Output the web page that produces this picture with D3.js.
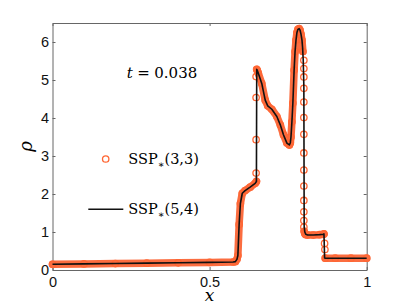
<!DOCTYPE html>
<html>
<head>
<meta charset="utf-8">
<script src="https://cdn.jsdelivr.net/npm/d3@7"></script>
<style>
  body { margin: 0; background: #fff; }
  svg { display: block; }
  .tick text { font-family: "Liberation Sans", Arial, sans-serif; font-size: 14.5px; fill: #111; }
</style>
</head>
<body>
<script>
// Tick labels
const xTicks = [0, 0.5, 1];
const yTicks = [0, 1, 2, 3, 4, 5, 6];

// SSP*(5,4) - black line
const ssp54X = [0, 0.1, 0.2, 0.3, 0.4, 0.5, 0.575, 0.582, 0.587, 0.590, 0.594, 0.598, 0.604, 0.613, 0.629, 0.645, 0.649,
  0.650, 0.652, 0.655, 0.666, 0.677, 0.685, 0.698, 0.714, 0.725, 0.735, 0.746, 0.754, 0.757, 0.759, 0.762, 0.765, 0.769,
  0.772, 0.775, 0.778, 0.781, 0.785, 0.788, 0.791, 0.794, 0.796, 0.798, 0.800, 0.801, 0.803, 0.806, 0.812, 0.830, 0.850,
  0.862, 0.864, 0.866, 0.868, 0.900, 0.950, 1.0];
const ssp54Rho = [0.15, 0.16, 0.17, 0.18, 0.19, 0.20, 0.21, 0.22, 0.28, 0.38, 1.20, 1.75, 2.02, 2.09, 2.18, 2.28, 2.33,
  5.28, 5.25, 5.18, 4.91, 4.47, 4.32, 4.23, 4.04, 3.82, 3.56, 3.34, 3.29, 3.35, 3.50, 3.90, 4.39, 5.26,
  5.75, 6.05, 6.25, 6.33, 6.35, 6.31, 6.20, 6.05, 5.85, 5.52, 4.82, 1.15, 1.00, 0.94, 0.92, 0.92, 0.93,
  0.94, 0.95, 0.32, 0.31, 0.31, 0.31, 0.31];

// SSP*(3,3) - dense circles (null separates the continuous runs)
const ssp33X = [0, 0.1, 0.2, 0.3, 0.4, 0.5, 0.575, 0.582, 0.587, 0.590, 0.594, 0.598, 0.604, 0.613, 0.629, 0.645, 0.649, null,
  0.650, 0.652, 0.655, 0.666, 0.677, 0.685, 0.698, 0.714, 0.725, 0.735, 0.746, 0.754, 0.757, 0.759, 0.762, 0.765, 0.769,
  0.772, 0.775, 0.778, 0.781, 0.785, 0.788, 0.791, 0.794, 0.797, null,
  0.801, 0.803, 0.806, 0.812, 0.830, 0.850, 0.862, 0.864, null,
  0.868, 0.900, 0.950, 1.0];
const ssp33Rho = [0.15, 0.16, 0.17, 0.18, 0.19, 0.20, 0.21, 0.22, 0.28, 0.38, 1.20, 1.75, 2.02, 2.09, 2.18, 2.28, 2.33, null,
  5.28, 5.25, 5.18, 4.91, 4.47, 4.32, 4.23, 4.04, 3.82, 3.56, 3.34, 3.29, 3.35, 3.50, 3.90, 4.39, 5.26,
  5.75, 6.05, 6.25, 6.33, 6.35, 6.31, 6.20, 6.05, 5.75, null,
  1.02, 0.96, 0.93, 0.92, 0.92, 0.93, 0.94, 0.95, null,
  0.31, 0.31, 0.31, 0.31];
// SSP*(3,3) - lone circles inside the jumps
const jumpX = [0.648, 0.648, 0.648, 0.648,
  0.800, 0.800, 0.800, 0.800, 0.800, 0.800, 0.800, 0.800, 0.800, 0.800, 0.800, 0.800, 0.800, 0.800,
  0.866, 0.867];
const jumpRho = [2.55, 3.43, 4.54, 5.09,
  5.52, 5.30, 5.08, 4.78, 4.42, 4.01, 3.57, 3.08, 2.63, 2.21, 1.83, 1.53, 1.30, 1.13,
  0.70, 0.54];

const width = 405;
const height = 305;
const marginTop = 23;
const marginRight = 38.3;
const marginBottom = 35;
const marginLeft = 52.5;
const orange = "#ff6633";
const serif = "'DejaVu Serif', serif";

const x = d3.scaleLinear().domain([0, 1]).range([marginLeft, width - marginRight]);
const y = d3.scaleLinear().domain([0, 6.5]).range([height - marginBottom, marginTop]);

const svg = d3.select("body").append("svg")
  .attr("width", width)
  .attr("height", height);

// AXES (box, inward ticks)
function styleAxis(g) {
  g.select(".domain").attr("stroke", "#666").attr("stroke-width", 1);
  g.selectAll(".tick line").attr("stroke", "#666");
}
svg.append("g")
  .attr("transform", `translate(0,${y(0)})`)
  .call(d3.axisBottom(x).tickValues(xTicks).tickFormat(d => String(d)).tickSizeInner(-3).tickSizeOuter(0).tickPadding(7))
  .call(styleAxis)
  .call(g => g.selectAll(".tick text").attr("dy", "0.71em"));
svg.append("g")
  .attr("transform", `translate(0,${marginTop})`)
  .call(d3.axisTop(x).tickValues(xTicks).tickFormat("").tickSizeInner(-3).tickSizeOuter(0))
  .call(styleAxis);
svg.append("g")
  .attr("transform", `translate(${marginLeft},0)`)
  .call(d3.axisLeft(y).tickValues(yTicks).tickFormat(d => String(d)).tickSizeInner(-3).tickSizeOuter(0).tickPadding(3.5))
  .call(styleAxis);
svg.append("g")
  .attr("transform", `translate(${width - marginRight},0)`)
  .call(d3.axisRight(y).tickValues(yTicks).tickFormat("").tickSizeInner(-3).tickSizeOuter(0))
  .call(styleAxis);

// SSP*(3,3) circles
const band = ssp33X.map((d, i) => [d, ssp33Rho[i]]);
const bandLine = d3.line()
  .defined(d => d[0] !== null)
  .x(d => x(d[0]))
  .y(d => y(d[1]));
svg.append("path")
  .datum(band)
  .attr("d", bandLine)
  .attr("fill", "none")
  .attr("stroke", "#fb6d40")
  .attr("stroke-width", 7.5)
  .attr("stroke-linejoin", "round")
  .attr("stroke-linecap", "round");
const pts = band.filter(d => d[0] !== null)
  .concat(jumpX.map((d, i) => [d, jumpRho[i]]));
svg.append("g")
  .selectAll("circle")
  .data(pts)
  .join("circle")
  .attr("cx", d => x(d[0]))
  .attr("cy", d => y(d[1]))
  .attr("r", 3.2)
  .attr("fill", "none")
  .attr("stroke", orange)
  .attr("stroke-width", 1.3);

// SSP*(5,4) line
svg.append("path")
  .datum(ssp54X.map((d, i) => [d, ssp54Rho[i]]))
  .attr("d", d3.line().x(d => x(d[0])).y(d => y(d[1])))
  .attr("fill", "none")
  .attr("stroke", "#111")
  .attr("stroke-width", 1.6)
  .attr("stroke-linejoin", "round");

// LABELS
svg.append("text")
  .attr("x", (x(0) + x(1)) / 2)
  .attr("y", 301)
  .attr("text-anchor", "middle")
  .style("font-family", serif)
  .style("font-size", "17px")
  .style("font-style", "italic")
  .text("x");
svg.append("text")
  .attr("transform", `translate(31.5,${(y(0) + y(6.5)) / 2}) rotate(-90)`)
  .attr("text-anchor", "middle")
  .style("font-family", serif)
  .style("font-size", "18px")
  .style("font-style", "italic")
  .text("ρ");

// t = 0.038
const tLabel = svg.append("text")
  .attr("x", 126.7)
  .attr("y", 78.3)
  .style("font-family", serif)
  .style("font-size", "15px");
tLabel.append("tspan").style("font-style", "italic").text("t");
tLabel.append("tspan").attr("dx", 4.5).text("=");
tLabel.append("tspan").attr("dx", 4.5).text("0.038");

// LEGEND
svg.append("circle")
  .attr("cx", 105.7)
  .attr("cy", 159)
  .attr("r", 3.2)
  .attr("fill", "none")
  .attr("stroke", orange)
  .attr("stroke-width", 1.3);
svg.append("line")
  .attr("x1", 88.3).attr("x2", 123.3)
  .attr("y1", 209.3).attr("y2", 209.3)
  .attr("stroke", "#111")
  .attr("stroke-width", 1.6);

function sspLabel(yPos, args) {
  const t = svg.append("text")
    .attr("x", 128.3)
    .attr("y", yPos)
    .style("font-family", serif)
    .style("font-size", "14.5px");
  t.append("tspan").text("SSP");
  t.append("tspan").attr("dy", 3.5).style("font-size", "10px").text("∗");
  t.append("tspan").attr("dy", -3.5).text(`(${args[0]},${args[1]})`);
}
sspLabel(164, [3, 3]);
sspLabel(214, [5, 4]);
</script>
</body>
</html>
